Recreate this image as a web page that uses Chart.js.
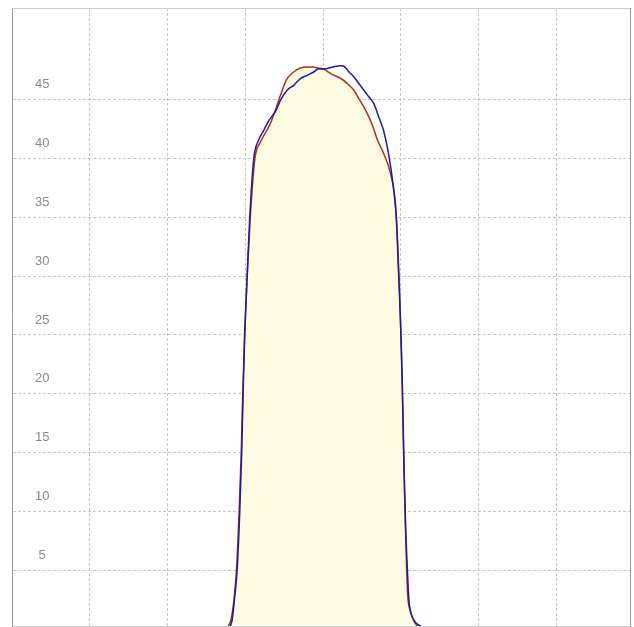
<!DOCTYPE html>
<html lang="en">
<head>
    <meta charset="UTF-8">
    <title>Profile</title>
    <script src="https://cdnjs.cloudflare.com/ajax/libs/Chart.js/4.4.1/chart.umd.min.js"></script>
    <style>
        body {
            margin: 0;
            background: #ffffff;
        }
    </style>
</head>
<body>
    <canvas id="profileChart" width="634" height="627"></canvas>

    <script>
        // values (x in grid units, 100 per vertical grid line)
        const redX = [269.3, 277.0, 281.5, 285.4, 288.6, 292.1, 294.8, 296.8, 299.2, 302.5, 306.4, 312.4,
            319.5, 325.9, 332.4, 341.0, 345.2, 353.8, 362.3, 370.9, 379.5, 388.0, 392.4, 400.5, 409.5,
            418.1, 422.4, 431.0, 439.5, 445.9, 452.3, 458.8, 464.8, 470.0, 477.7, 486.7, 493.1, 495.7,
            498.3, 500.8, 502.8, 504.7, 507.0, 508.9, 511.8, 516.3, 521.4, 527.8];
        const redY = [0, 0.22, 0.81, 2.51, 4.97, 9.98, 14.98, 19.99, 25.0, 30.0, 34.9, 39.95,
            41.37, 42.14, 42.96, 44.51, 45.33, 46.74, 47.31, 47.65, 47.73, 47.73, 47.65, 47.56, 47.2,
            46.91, 46.78, 46.35, 45.78, 45.08, 44.37, 43.52, 42.56, 41.54, 40.44, 38.74, 36.2, 33.3,
            29.07, 23.73, 17.78, 11.84, 6.33, 2.94, 1.66, 0.81, 0.31, 0.05];

        const blueX = [270.6, 279.6, 283.1, 286.0, 289.5, 292.9, 295.4, 297.2, 299.3, 302.4, 305.7, 310.9,
            316.9, 323.3, 330.5, 340.0, 345.2, 353.8, 362.3, 370.9, 379.5, 388.0, 394.5, 400.9,
            413.8, 422.4, 426.2, 433.1, 439.5, 445.9, 452.3, 458.8, 465.2, 471.6, 477.7, 484.1, 490.5,
            494.4, 497.0, 499.6, 502.1, 503.8, 506.0, 508.5, 510.5, 513.7, 518.8, 525.3, 533.0];
        const blueY = [0, 0.22, 0.81, 2.51, 4.97, 9.98, 14.98, 19.99, 25.0, 30.0, 34.9, 39.95,
            41.5, 42.3, 43.2, 44.1, 44.9, 45.76, 46.18, 46.74, 47.03, 47.31, 47.59, 47.56,
            47.76, 47.84, 47.82, 47.34, 46.91, 46.35, 45.78, 45.21, 44.65, 43.52, 42.39, 40.44, 37.55,
            34.75, 30.51, 26.27, 20.58, 14.98, 9.30, 5.06, 2.51, 1.32, 0.64, 0.31, 0.05];

        const yTicks = [5, 10, 15, 20, 25, 30, 35, 40, 45];
        const xTicks = [0, 100, 200, 300, 400, 500, 600, 700];

        function toPoints(xs, ys) {
            return xs.map((x, i) => ({ x: x, y: ys[i] }));
        }

        // top and right edges of the frame
        const frame = {
            id: 'frame',
            afterDraw(chart) {
                const a = chart.chartArea;
                const ctx = chart.ctx;
                ctx.save();
                ctx.lineWidth = 1;
                ctx.strokeStyle = '#cccccc';
                ctx.beginPath();
                ctx.moveTo(a.left, a.top + 0.5);
                ctx.lineTo(a.right, a.top + 0.5);
                ctx.stroke();
                ctx.strokeStyle = '#999999';
                ctx.beginPath();
                ctx.moveTo(a.right - 0.5, a.top);
                ctx.lineTo(a.right - 0.5, a.bottom);
                ctx.stroke();
                ctx.restore();
            }
        };

        new Chart(document.getElementById('profileChart'), {
            type: 'line',
            data: {
                datasets: [
                    {
                        label: 'red',
                        data: toPoints(redX, redY),
                        borderColor: '#ac311e',
                        backgroundColor: '#fdfbe1',
                        borderWidth: 1.5,
                        fill: 'origin',
                        pointRadius: 0,
                        cubicInterpolationMode: 'monotone',
                        order: 1
                    },
                    {
                        label: 'blue',
                        data: toPoints(blueX, blueY),
                        borderColor: '#1c1c9c',
                        borderWidth: 1.5,
                        fill: false,
                        pointRadius: 0,
                        cubicInterpolationMode: 'monotone',
                        order: 0
                    }
                ]
            },
            options: {
                responsive: false,
                animation: false,
                layout: {
                    padding: { left: 12, right: 3, top: 8, bottom: 1 }
                },
                plugins: {
                    legend: { display: false },
                    tooltip: { enabled: false }
                },
                scales: {
                    x: {
                        type: 'linear',
                        min: 0,
                        max: 796.1,
                        afterBuildTicks: axis => {
                            axis.ticks = xTicks.map(v => ({ value: v }));
                        },
                        afterFit: axis => {
                            axis.height = 0;
                            axis.paddingLeft = 0;
                            axis.paddingRight = 0;
                        },
                        ticks: { display: false },
                        grid: { color: '#c4c4c4', drawTicks: false },
                        border: { color: '#cccccc', dash: [3, 2] }
                    },
                    y: {
                        min: 0.31,
                        max: 52.74,
                        afterBuildTicks: axis => {
                            axis.ticks = yTicks.map(v => ({ value: v }));
                        },
                        // labels sit inside the plot, so the axis takes no room
                        afterFit: axis => {
                            axis.width = 0;
                            axis.paddingTop = 0;
                            axis.paddingBottom = 0;
                        },
                        ticks: {
                            mirror: true,
                            crossAlign: 'center',
                            padding: 23,
                            labelOffset: -15,
                            color: '#8a8a8a',
                            font: { family: 'Liberation Sans, Arial, sans-serif', size: 13 }
                        },
                        grid: { color: '#c4c4c4', drawTicks: false },
                        border: { color: '#999999', dash: [3, 2] }
                    }
                }
            },
            plugins: [frame]
        });
    </script>
</body>
</html>
